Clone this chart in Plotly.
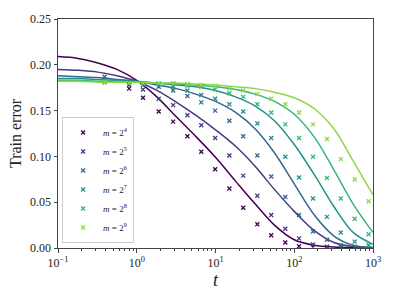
import plotly.graph_objects as go

# ---- data ----
series_names = ["<i>m</i> = 2<sup>4</sup>", "<i>m</i> = 2<sup>5</sup>", "<i>m</i> = 2<sup>6</sup>",
                "<i>m</i> = 2<sup>7</sup>", "<i>m</i> = 2<sup>8</sup>", "<i>m</i> = 2<sup>9</sup>"]
colors = ["#440154", "#443983", "#31688e", "#21918c", "#35b779", "#90d743"]

# theory curves (solid lines)
t_line = [0.1, 0.18, 0.32, 0.56, 1, 1.8, 3.2, 5.6, 10, 18, 32, 56, 100, 180, 320, 560, 1000]
line_m4 = [0.209, 0.207, 0.202, 0.195, 0.183, 0.165, 0.143, 0.122, 0.099, 0.073, 0.048, 0.025, 0.009,
           0.003, 0.001, 0.0002, 0.0]
line_m5 = [0.195, 0.194, 0.192, 0.188, 0.182, 0.172, 0.159, 0.145, 0.129, 0.111, 0.089, 0.064, 0.040,
           0.019, 0.006, 0.0015, 0.0003]
line_m6 = [0.188, 0.187, 0.186, 0.184, 0.182, 0.178, 0.174, 0.168, 0.160, 0.148, 0.130, 0.104, 0.070,
           0.036, 0.013, 0.003, 0.0008]
line_m7 = [0.185, 0.185, 0.184, 0.183, 0.182, 0.180, 0.178, 0.176, 0.172, 0.165, 0.155, 0.139, 0.113,
           0.080, 0.045, 0.017, 0.004]
line_m8 = [0.183, 0.183, 0.182, 0.182, 0.181, 0.180, 0.179, 0.178, 0.176, 0.173, 0.168, 0.160, 0.146,
           0.121, 0.085, 0.048, 0.017]
line_m9 = [0.182, 0.182, 0.181, 0.181, 0.181, 0.180, 0.180, 0.179, 0.178, 0.176, 0.174, 0.170, 0.164,
           0.152, 0.130, 0.095, 0.058]

# simulation points (x markers)
t_points = [0.39, 0.8, 1.2, 1.9, 2.9, 4.4, 6.6, 9.9, 15, 22.5, 34, 51, 77, 115, 173, 260, 390, 585, 880]
pts_m4 = [None, 0.174, 0.164, 0.149, 0.138, 0.122, 0.105, 0.086, 0.065, 0.044, 0.026, 0.014, 0.006, 0.002,
          0.001, 0.0005, None, None, None]
pts_m5 = [None, 0.178, 0.173, 0.163, 0.156, 0.145, 0.134, 0.120, 0.101, 0.079, 0.057, 0.036, 0.021, 0.0105,
          0.004, 0.0015, 0.0005, None, None]
pts_m6 = [0.187, 0.180, 0.178, 0.176, 0.172, 0.166, 0.159, 0.150, 0.139, 0.122, 0.101, 0.078, 0.0556, 0.036,
          0.018, 0.009, 0.003, 0.001, None]
pts_m7 = [0.181, 0.180, 0.180, 0.179, 0.176, 0.172, 0.167, 0.163, 0.157, 0.149, 0.136, 0.120, 0.0996, 0.077,
          0.054, 0.034, 0.017, 0.007, 0.003]
pts_m8 = [0.181, 0.180, 0.180, 0.179, 0.179, 0.177, 0.176, 0.173, 0.169, 0.165, 0.157, 0.148, 0.135, 0.120,
          0.0996, 0.0765, 0.054, 0.032, 0.015]
pts_m9 = [0.181, 0.180, 0.180, 0.180, 0.180, 0.179, 0.178, 0.177, 0.174, 0.172, 0.168, 0.163, 0.157, 0.148,
          0.135, 0.119, 0.097, 0.0747, 0.051]

x_tick_vals = [0.1, 1, 10, 100, 1000]
x_tick_text = ["10<sup>−1</sup>", "10<sup>0</sup>", "10<sup>1</sup>", "10<sup>2</sup>", "10<sup>3</sup>"]
y_tick_vals = [0.0, 0.05, 0.10, 0.15, 0.20, 0.25]

lines = [line_m4, line_m5, line_m6, line_m7, line_m8, line_m9]
points = [pts_m4, pts_m5, pts_m6, pts_m7, pts_m8, pts_m9]

minor_vals = [k * 10 ** e for e in (-1, 0, 1, 2) for k in range(2, 10)]

fig = go.Figure()
for ys, c in zip(lines, colors):
    fig.add_trace(go.Scatter(x=t_line, y=ys, mode="lines",
                             line=dict(color=c, width=1.5, shape="spline", smoothing=1.0),
                             showlegend=False, hoverinfo="skip"))
for ys, c, n in zip(points, colors, series_names):
    fig.add_trace(go.Scatter(x=t_points, y=ys, mode="markers", name=n,
                             marker=dict(symbol="x-thin", size=4, color=c, line=dict(color=c, width=1.3))))

serif = "Liberation Serif, DejaVu Serif, serif"
fig.update_layout(
    width=394, height=296,
    margin=dict(l=58, r=21, t=17, b=48),
    paper_bgcolor="white", plot_bgcolor="white",
    font=dict(family=serif, size=12, color="#222"),
    legend=dict(x=0.013, y=0.022, xanchor="left", yanchor="bottom",
                bgcolor="rgba(255,255,255,0.9)", bordercolor="#cccccc", borderwidth=1,
                font=dict(family=serif, size=9), itemwidth=30, tracegroupgap=0),
)
fig.update_xaxes(type="log", range=[-1, 3], showgrid=False, zeroline=False,
                 showline=True, linecolor="#444", linewidth=1, mirror=True,
                 ticks="outside", ticklen=3.5, tickcolor="#444",
                 tickvals=x_tick_vals, ticktext=x_tick_text, tickfont=dict(size=12),
                 minor=dict(tickvals=minor_vals, ticks="outside", ticklen=2, tickcolor="#444"),
                 title=dict(text="<i>t</i>", font=dict(size=18), standoff=0))
fig.update_yaxes(range=[0, 0.25], showgrid=False, zeroline=False,
                 showline=True, linecolor="#444", linewidth=1, mirror=True,
                 ticks="outside", ticklen=3.5, tickcolor="#444",
                 tickvals=y_tick_vals, tickformat=".2f", tickfont=dict(size=12),
                 title=dict(text="Train error", font=dict(size=16), standoff=4))

fig.write_html("out.html", config={"displayModeBar": False},
               post_script="document.body.style.margin='0';document.body.style.overflow='hidden';")
